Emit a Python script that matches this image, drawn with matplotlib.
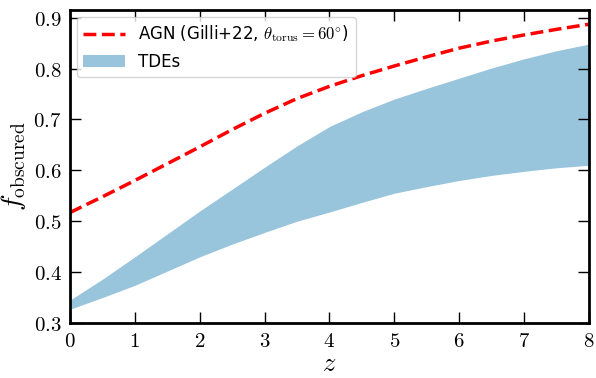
import matplotlib
matplotlib.use("Agg")
import matplotlib.pyplot as plt
import numpy as np

plt.rcParams['mathtext.fontset'] = 'cm'
plt.rcParams['font.family'] = ['DejaVu Sans']

# redshift grid and curves
z = [0, 0.5, 1, 1.5, 2, 2.5, 3, 3.5, 4, 4.5, 5, 5.5, 6, 6.5, 7, 7.5, 8]
agn = [0.517, 0.548, 0.580, 0.613, 0.646, 0.680, 0.712, 0.741, 0.765, 0.786,
       0.805, 0.823, 0.840, 0.854, 0.866, 0.877, 0.887]
tde_lo = [0.327, 0.350, 0.374, 0.402, 0.430, 0.455, 0.478, 0.500, 0.518, 0.537,
          0.555, 0.568, 0.580, 0.590, 0.598, 0.605, 0.610]
tde_hi = [0.345, 0.386, 0.430, 0.475, 0.520, 0.563, 0.606, 0.648, 0.686, 0.715,
          0.740, 0.761, 0.781, 0.801, 0.819, 0.835, 0.848]

fig = plt.figure(figsize=(5.96, 3.78), dpi=100)
ax = fig.add_axes([0.1174, 0.1455, 0.8706, 0.828])

ax.plot(z, agn, color='red', ls='--', lw=2.5,
        label=r'AGN (Gilli+22, $\theta_{\rm torus}=60^{\circ}$)')
ax.fill_between(z, tde_lo, tde_hi, color='#98c4dc', lw=0, label='TDEs')

ax.set_xlim(0, 8)
ax.set_ylim(0.3, 0.915)
ax.set_xticks(range(9))
ax.set_xticklabels([r'$%d$' % v for v in range(9)])
yt = [0.3, 0.4, 0.5, 0.6, 0.7, 0.8, 0.9]
ax.set_yticks(yt)
ax.set_yticklabels([r'$%.1f$' % v for v in yt])
ax.tick_params(direction='in', top=True, right=True, length=8, width=1,
               labelsize=15, pad=6)
for s in ax.spines.values():
    s.set_linewidth(2)

ax.set_xlabel(r'$z$', fontsize=19)
ax.xaxis.set_label_coords(0.5, -0.13)
ax.xaxis.label.set_va('center')
ax.set_ylabel(r'$f_{\rm obscured}$', fontsize=20, labelpad=4)

ax.legend(loc='upper left', fontsize=12, handlelength=2.5,
          borderaxespad=0.4, framealpha=0.8)

fig.savefig('out.png', dpi=100)
